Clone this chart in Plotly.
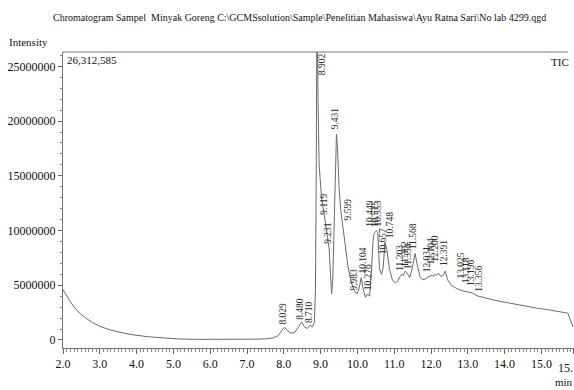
import plotly.graph_objects as go

# Total ion chromatogram: retention time (min) and intensity (millions of counts)
rt_min = [2.00, 2.08, 2.18, 2.30, 2.45, 2.62, 2.80, 3.00, 3.25, 3.55, 3.90, 4.30, 4.70,
          5.10, 5.60, 6.10, 6.60, 7.10, 7.50, 7.70, 7.85, 7.95, 8.029, 8.10, 8.20, 8.30,
          8.40, 8.480, 8.56, 8.64, 8.710, 8.78, 8.83, 8.86, 8.88, 8.902, 8.93, 8.96, 9.02,
          9.07, 9.119, 9.17, 9.231, 9.27, 9.30, 9.33, 9.37, 9.40, 9.431, 9.46, 9.50, 9.55,
          9.599, 9.66, 9.74, 9.83, 9.92, 9.983, 10.04, 10.104, 10.16, 10.22, 10.276, 10.33,
          10.38, 10.42, 10.449, 10.49, 10.515, 10.553, 10.60, 10.657, 10.70, 10.748, 10.80,
          10.87, 10.95, 11.03, 11.10, 11.16, 11.203, 11.25, 11.302, 11.354, 11.42, 11.48,
          11.568, 11.63, 11.70, 11.78, 11.86, 11.95, 12.031, 12.07, 12.104, 12.15, 12.200,
          12.27, 12.33, 12.391, 12.45, 12.55, 12.70, 12.85, 13.025, 13.118, 13.196, 13.28,
          13.356, 13.50, 13.70, 14.00, 14.30, 14.60, 14.90, 15.20, 15.50, 15.72, 15.86]
intensity_m = [4.6, 4.1, 3.6, 3.0, 2.45, 2.0, 1.6, 1.25, 0.95, 0.7, 0.47, 0.3, 0.18,
               0.1, 0.06, 0.05, 0.05, 0.07, 0.1, 0.18, 0.4, 0.9, 1.15, 0.85, 0.62, 0.7,
               1.2, 1.65, 1.2, 1.05, 1.35, 1.2, 1.6, 4.5, 14.0, 31.0, 22.0, 16.0, 13.2,
               12.0, 11.1, 9.8, 8.4, 6.0, 4.2, 5.5, 11.0, 16.5, 18.8, 17.5, 14.0, 11.8,
               10.5, 8.6, 6.8, 5.3, 4.5, 4.2, 4.6, 5.7, 4.6, 3.9, 4.2, 4.0,
               6.0, 8.8, 9.7, 9.9, 10.0, 9.8, 6.5, 6.0, 6.6, 8.9, 8.3,
               6.5, 5.5, 5.2, 5.4, 5.8, 6.0, 5.9, 6.3, 6.1, 5.7, 6.4,
               7.9, 6.8, 5.8, 5.5, 5.6, 5.8, 5.9, 5.8, 6.0, 5.9, 6.1,
               5.8, 5.9, 6.3, 5.5, 5.0, 4.7, 4.5, 4.4, 4.3, 4.15, 4.0,
               3.95, 3.8, 3.65, 3.45, 3.25, 3.05, 2.9, 2.75, 2.6, 2.45, 1.2]

# Peak retention-time labels, the height their text starts at (millions) and a pixel nudge
peak_labels = ["8.029", "8.480", "8.710", "8.902", "9.119", "9.231", "9.431", "9.599",
               "9.983", "10.104", "10.276", "10.449", "10.515", "10.553", "10.657", "10.748",
               "11.203", "11.302", "11.354", "11.568", "12.031", "12.104", "12.200", "12.391",
               "13.025", "13.118", "13.196", "13.356"]
label_base_m = [1.3, 1.75, 1.45, 24.1, 11.4, 8.7, 19.2, 10.8,
                4.4, 6.0, 4.4, 10.25, 10.25, 10.25, 7.7, 9.2,
                6.2, 6.6, 6.4, 8.2, 6.1, 6.8, 7.1, 6.7,
                5.5, 5.1, 4.85, 4.3]
label_nudge_px = [-2, -1.5, -1, 5, -1, -1, -2, 5,
                  -3, 2, 0, -4, -2, 0, 1, 5,
                  -2, -1, 1, -2, -5, -4, -3, -2,
                  -8, -6, -4, -2]

x_ticks = [2.0, 3.0, 4.0, 5.0, 6.0, 7.0, 8.0, 9.0, 10.0, 11.0, 12.0, 13.0, 14.0, 15.0, 15.88]
x_tick_text = ["2.0", "3.0", "4.0", "5.0", "6.0", "7.0", "8.0", "9.0", "10.0", "11.0",
               "12.0", "13.0", "14.0", "15.0", ""]
x_end_text = "15."
y_ticks = [0, 5000000, 10000000, 15000000, 20000000, 25000000]
y_tick_text = ["0", "5000000", "10000000", "15000000", "20000000", "25000000"]

title_text = ("Chromatogram Sampel  Minyak Goreng C:\\GCMSsolution\\Sample\\Penelitian "
              "Mahasiswa\\Ayu Ratna Sari\\No lab 4299.qgd")

SERIF = "Liberation Serif, Times New Roman, serif"
INK = "#111111"

fig = go.Figure(
    go.Scatter(
        x=rt_min,
        y=[v * 1e6 for v in intensity_m],
        mode="lines",
        line=dict(color="#6a6a6a", width=1),
        hoverinfo="x+y",
    )
)

annotations = [
    dict(text=title_text, x=0.462, y=1.118, xref="paper", yref="paper",
         xanchor="center", yanchor="middle", showarrow=False,
         font=dict(family=SERIF, size=10, color=INK)),
    dict(text="Intensity", x=-0.11, y=1.034, xref="paper", yref="paper",
         xanchor="left", yanchor="middle", showarrow=False,
         font=dict(family=SERIF, size=11, color=INK)),
    dict(text="26,312,585", x=0.004, y=0.973, xref="paper", yref="paper",
         xanchor="left", yanchor="middle", showarrow=False,
         font=dict(family=SERIF, size=11, color=INK)),
    dict(text="TIC", x=0.995, y=0.966, xref="paper", yref="paper",
         xanchor="right", yanchor="middle", showarrow=False,
         font=dict(family=SERIF, size=11, color=INK)),
    dict(text="min", x=0.98, y=-0.115, xref="paper", yref="paper",
         xanchor="center", yanchor="middle", showarrow=False,
         font=dict(family=SERIF, size=11, color=INK)),
    # closing time label at the right end of the time axis
    dict(text=x_end_text, x=1.0, y=-0.068, xref="paper", yref="paper",
         xanchor="right", yanchor="middle", showarrow=False, borderpad=0,
         font=dict(family=SERIF, size=12, color=INK)),
]
for lbl, base, nudge in zip(peak_labels, label_base_m, label_nudge_px):
    annotations.append(dict(
        text=lbl, x=float(lbl), y=base * 1e6, xref="x", yref="y",
        xanchor="center", yanchor="bottom", textangle=-90, showarrow=False,
        xshift=nudge, borderpad=0,
        font=dict(family=SERIF, size=9.5, color="#2a2a2a"),
    ))

fig.update_layout(
    width=574, height=390,
    margin=dict(l=63, r=0, t=52, b=42, autoexpand=False),
    paper_bgcolor="white", plot_bgcolor="white",
    showlegend=False,
    annotations=annotations,
    shapes=[dict(type="line", xref="paper", yref="paper", x0=0, x1=0.988, y0=1, y1=1,
                 line=dict(color="#777777", width=1))],
    xaxis=dict(
        range=[2.0, 15.886], tickvals=x_ticks, ticktext=x_tick_text,
        automargin=False,
        ticks="outside", ticklen=5, tickcolor="#666666", tickwidth=1,
        showline=True, linecolor="#777777", linewidth=1,
        showgrid=False, zeroline=False,
        tickfont=dict(family=SERIF, size=12, color=INK),
        minor=dict(ticks="outside", ticklen=3, dtick=0.1, tick0=2.0,
                   tickcolor="#888888", showgrid=False),
    ),
    yaxis=dict(
        range=[-733000, 26312585], tickvals=y_ticks, ticktext=y_tick_text,
        automargin=False,
        ticks="outside", ticklen=4, tickcolor="#666666", tickwidth=1,
        showline=True, linecolor="#777777", linewidth=1,
        showgrid=False, zeroline=False,
        tickfont=dict(family=SERIF, size=12, color=INK),
        minor=dict(ticks="outside", ticklen=2, dtick=1000000, tick0=0,
                   tickcolor="#888888", showgrid=False),
    ),
)

fig.write_html("out.html")
